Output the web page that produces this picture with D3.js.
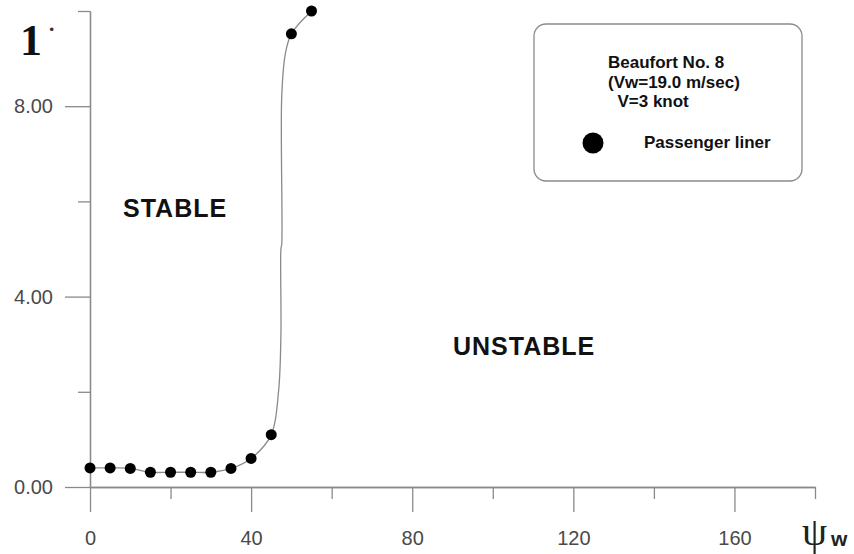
<!DOCTYPE html>
<html>
<head>
<meta charset="utf-8">
<script src="https://cdn.jsdelivr.net/npm/d3@7/dist/d3.min.js"></script>
<style>
  body { margin: 0; background: #fff; }
  svg { display: block; }
  text { font-family: "Liberation Sans", Arial, sans-serif; }
</style>
</head>
<body>
<svg id="svg" width="854" height="554"></svg>
<script>
// measured wind angles (deg) and the corresponding values
var pointX = [0, 5, 10, 15, 20, 25, 30, 35, 40, 45, 50, 55];
var pointY = [0.40, 0.40, 0.39, 0.31, 0.31, 0.31, 0.31, 0.39, 0.60, 1.10, 9.52, 10.0];

// hand-drawn boundary curve
var curveX = [0, 5, 10, 15, 20, 25, 30, 35, 40, 45, 46.8, 47.4, 47.4, 47.6, 47.6, 48.5, 50, 55];
var curveY = [0.40, 0.40, 0.39, 0.31, 0.31, 0.31, 0.31, 0.39, 0.60, 1.10, 2.0, 3.2, 5.0, 5.1, 8.2, 9.1, 9.52, 10.0];

var xMajor = [0, 40, 80, 120, 160];
var xMinor = [20, 60, 100, 140, 180];
var yMajor = [0, 4, 8];
var yMinor = [2, 6, 10];

var legendLines = ['Beaufort No. 8', '(Vw=19.0 m/sec)', '  V=3 knot'];

var svg = d3.select('svg');

var x = d3.scaleLinear().domain([0, 180]).range([90, 815]);
var y = d3.scaleLinear().domain([0, 10]).range([487, 11]);

function styleAxis(g) {
  g.selectAll('path.domain').attr('stroke', '#8a8a8a').attr('stroke-width', 1.3);
  g.selectAll('line').attr('stroke', '#8a8a8a').attr('stroke-width', 1.3);
  g.selectAll('text').attr('fill', '#4a4a4a').style('font-size', '20px')
    .style('font-family', '"Liberation Sans", Arial, sans-serif');
}

// x axis
svg.append('g').attr('transform', 'translate(0,' + y(0) + ')')
  .call(d3.axisBottom(x).tickValues(xMinor).tickSize(12).tickSizeOuter(0).tickFormat(''))
  .call(styleAxis);
svg.append('g').attr('transform', 'translate(0,' + y(0) + ')')
  .call(d3.axisBottom(x).tickValues(xMajor).tickSize(25).tickSizeOuter(0).tickPadding(19).tickFormat(d3.format('d')))
  .call(styleAxis);

// y axis
svg.append('g').attr('transform', 'translate(' + x(0) + ',0)')
  .call(d3.axisLeft(y).tickValues(yMinor).tickSize(12).tickSizeOuter(0).tickFormat(''))
  .call(styleAxis);
svg.append('g').attr('transform', 'translate(' + x(0) + ',0)')
  .call(d3.axisLeft(y).tickValues(yMajor).tickSize(25).tickSizeOuter(0).tickPadding(12).tickFormat(d3.format('.2f')))
  .call(styleAxis);

// axis titles
svg.append('text').attr('x', 20).attr('y', 55)
  .style('font-family', '"Liberation Serif", "Times New Roman", serif')
  .style('font-weight', 'bold').style('font-size', '44px').attr('fill', '#111')
  .text('1');
svg.append('text').attr('x', 48).attr('y', 36)
  .style('font-family', '"Liberation Serif", serif')
  .style('font-weight', 'bold').style('font-size', '22px').attr('fill', '#333')
  .text('\u00B7');

svg.append('text').attr('x', 802).attr('y', 545)
  .style('font-family', '"Liberation Serif", "Times New Roman", serif')
  .style('font-size', '40px').attr('fill', '#222')
  .text('\u03C8');
svg.append('text').attr('x', 831).attr('y', 546)
  .style('font-weight', 'bold').style('font-size', '21px').attr('fill', '#222')
  .text('w');

// boundary curve
var line = d3.line()
  .x(function (d) { return x(d[0]); })
  .y(function (d) { return y(d[1]); })
  .curve(d3.curveCatmullRom.alpha(0.5));

svg.append('path')
  .datum(d3.zip(curveX, curveY))
  .attr('d', line)
  .attr('fill', 'none')
  .attr('stroke', '#8a8a8a')
  .attr('stroke-width', 1.3);

svg.append('g').selectAll('circle')
  .data(d3.zip(pointX, pointY))
  .join('circle')
  .attr('cx', function (d) { return x(d[0]); })
  .attr('cy', function (d) { return y(d[1]); })
  .attr('r', 5.5)
  .attr('fill', '#000');

// region labels
svg.append('text').attr('x', 123).attr('y', 217)
  .style('font-weight', 'bold').style('font-size', '25px').style('letter-spacing', '1px').attr('fill', '#111')
  .text('STABLE');
svg.append('text').attr('x', 453).attr('y', 355)
  .style('font-weight', 'bold').style('font-size', '25px').style('letter-spacing', '1px').attr('fill', '#111')
  .text('UNSTABLE');

// legend
var legend = svg.append('g');
legend.append('rect')
  .attr('x', 534).attr('y', 24).attr('width', 268).attr('height', 157)
  .attr('rx', 12).attr('ry', 12)
  .attr('fill', '#fff').attr('stroke', '#8a8a8a').attr('stroke-width', 1.3);

legend.selectAll('text.info')
  .data(legendLines)
  .join('text')
  .attr('class', 'info')
  .attr('x', 608)
  .attr('y', function (d, i) { return 68 + i * 19.5; })
  .attr('xml:space', 'preserve')
  .style('white-space', 'pre')
  .style('font-weight', 'bold').style('font-size', '17px').attr('fill', '#111')
  .text(function (d) { return d; });

legend.append('circle').attr('cx', 593).attr('cy', 143).attr('r', 10.5).attr('fill', '#000');
legend.append('text').attr('x', 644).attr('y', 148)
  .style('font-weight', 'bold').style('font-size', '17px').attr('fill', '#111')
  .text('Passenger liner');
</script>
</body>
</html>
